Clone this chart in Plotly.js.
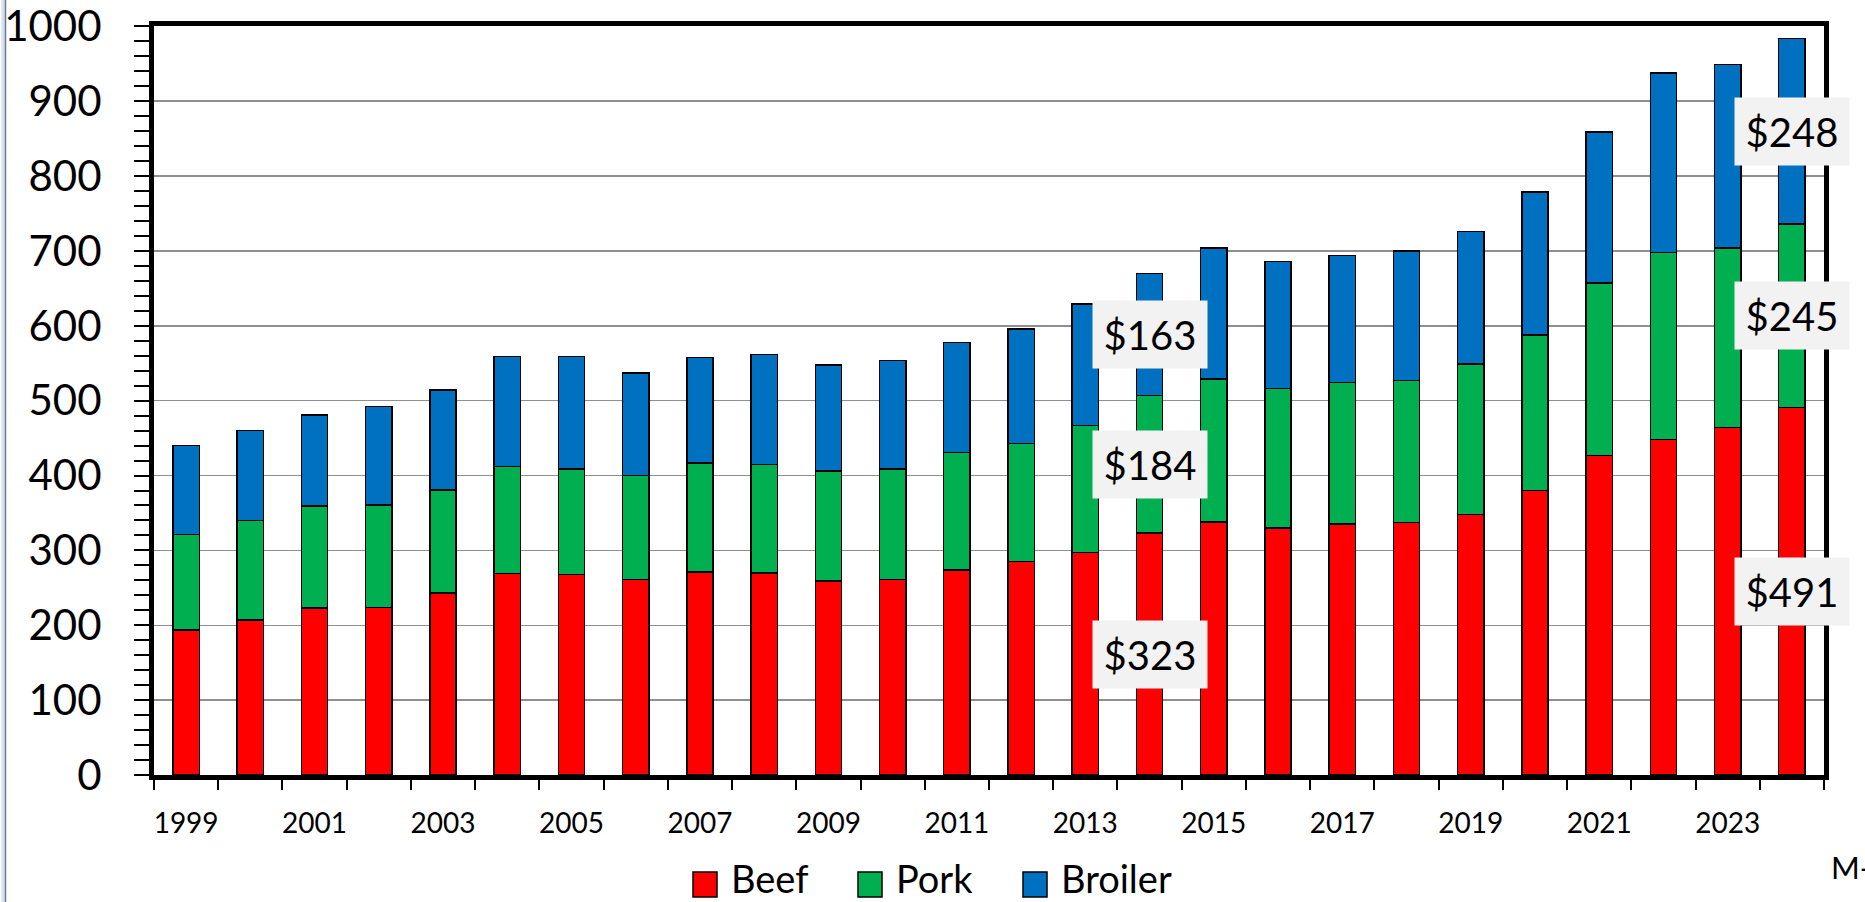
<!DOCTYPE html>
<html><head><meta charset="utf-8">
<script src="https://cdn.plot.ly/plotly-3.0.1.min.js"></script>
<style>html,body{margin:0;padding:0;background:#fff;overflow:hidden}#chart{width:1865px;height:902px}</style>
</head><body><div id="chart"></div>
<script>
// ---- data ----
const years = [1999,2000,2001,2002,2003,2004,2005,2006,2007,2008,2009,2010,2011,2012,2013,2014,2015,2016,2017,2018,2019,2020,2021,2022,2023,2024];
const beef = [194,207,223,224,243,269,268,261,271,270,259,261,274,285,297,323,338,330,335,337,348,380,427,448,464,491];
const pork = [127,133,136,137,138,143,141,139,146,145,147,148,157,158,170,184,191,186,189,190,201,208,230,250,240,245];
const broiler = [119,120,122,131,133,147,150,137,141,147,142,145,147,153,162,163,175,170,170,173,177,191,202,240,245,248];
const seriesNames = ['Beef','Pork','Broiler'];
const seriesColors = ['#FF0000','#00B050','#0070C0'];
const labeledYears = [2014, 2024];
const xTickLabels = ['1999','2001','2003','2005','2007','2009','2011','2013','2015','2017','2019','2021','2023'];
const yTickLabels = ['0','100','200','300','400','500','600','700','800','900','1000'];
const sourceNote = 'M-';

// ---- layout helpers ----
const W = 1865, H = 902;
const M = {l:154, r:41, t:26, b:127};
const PW = W - M.l - M.r, PH = H - M.t - M.b;
const px = v => (v - M.l) / PW;
const py = v => (H - M.b - v) / PH;
const FONT = 'Lato, "Open Sans", sans-serif';

const allSeries = [beef, pork, broiler];
const traces = allSeries.map((vals, k) => ({
  type: 'bar', name: seriesNames[k], x: years, y: vals, width: 0.41,
  marker: {color: seriesColors[k], line: {color: '#000', width: 1.5}},
  hoverinfo: 'x+y+name', showlegend: false
}));

const annotations = [];
labeledYears.forEach(yr => {
  const i = years.indexOf(yr);
  let base = 0;
  allSeries.forEach(vals => {
    const v = vals[i];
    annotations.push({
      x: yr, y: base + v / 2, xref: 'x', yref: 'y', showarrow: false,
      text: '$' + v, font: {family: FONT, size: 40, color: '#000'},
      bgcolor: '#F2F2F2', borderpad: 0, width: 114, height: 67,
      xanchor: 'center', yanchor: 'middle'
    });
    base += v;
  });
});

// custom legend
const shapes = [];
const legendX = [693, 858, 1023];
seriesNames.forEach((n, k) => {
  shapes.push({type: 'rect', xref: 'paper', yref: 'paper',
    x0: px(legendX[k]), x1: px(legendX[k] + 24), y0: py(872), y1: py(897),
    fillcolor: seriesColors[k], line: {color: '#000', width: 1.5}});
  annotations.push({xref: 'paper', yref: 'paper', x: px(legendX[k] + 36), y: py(878),
    xanchor: 'left', yanchor: 'middle', showarrow: false, text: n,
    font: {family: FONT, size: 38, color: '#000'}});
});
annotations.push({xref: 'paper', yref: 'paper', x: px(1829), y: py(867),
  xanchor: 'left', yanchor: 'middle', showarrow: false, text: sourceNote,
  font: {family: FONT, size: 31, color: '#000'}});
// left frame edge
shapes.push({type: 'rect', xref: 'paper', yref: 'paper', x0: px(1.5), x1: px(5), y0: py(0), y1: py(H),
  fillcolor: '#D6E0EC', line: {width: 0}, layer: 'below'});
shapes.push({type: 'line', xref: 'paper', yref: 'paper', x0: px(5.5), x1: px(5.5), y0: py(0), y1: py(H),
  line: {color: '#6B7B90', width: 1.5}});

const layout = {
  width: W, height: H, margin: M, barmode: 'stack',
  paper_bgcolor: '#fff', plot_bgcolor: '#fff',
  font: {family: FONT, color: '#000'},
  showlegend: false,
  xaxis: {
    type: 'linear', range: [years[0] - 0.5, years[years.length - 1] + 0.5],
    tickmode: 'array', tickvals: xTickLabels.map(Number), ticktext: xTickLabels,
    ticks: '', tickfont: {family: FONT, size: 28, color: '#000'}, ticklabelstandoff: 19,
    showgrid: false, zeroline: false,
    showline: true, linecolor: '#000', linewidth: 5, mirror: true,
    minor: {tick0: years[0] - 0.5, dtick: 1, ticks: 'outside', ticklen: 10, tickwidth: 2, tickcolor: '#000', showgrid: false}
  },
  yaxis: {
    range: [0, 1000.5], tickmode: 'array', tickvals: yTickLabels.map(Number), ticktext: yTickLabels,
    ticks: 'outside', ticklen: 15, tickwidth: 2, tickcolor: '#000',
    tickfont: {family: FONT, size: 42, color: '#000'}, ticklabelstandoff: 24,
    showgrid: true, gridcolor: '#8F8F8F', gridwidth: 1.5, zeroline: false,
    showline: true, linecolor: '#000', linewidth: 5, mirror: true,
    minor: {dtick: 20, ticks: 'outside', ticklen: 15, tickwidth: 2, tickcolor: '#000', showgrid: false}
  },
  annotations: annotations, shapes: shapes
};
Plotly.newPlot('chart', traces, layout, {displayModeBar: false, staticPlot: true});
</script></body></html>
